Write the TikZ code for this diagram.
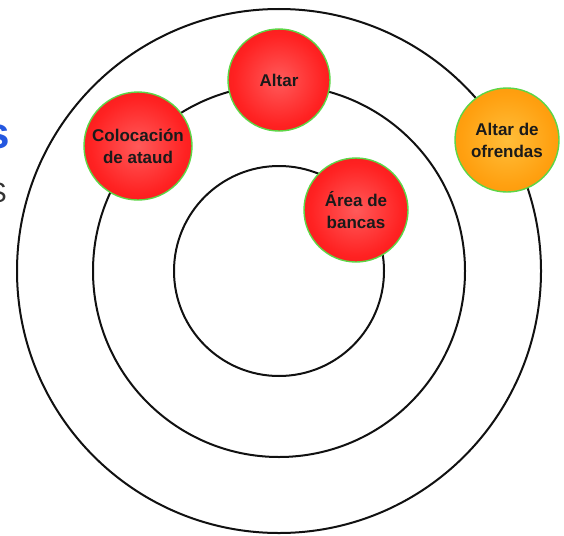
\documentclass[tikz,border=0pt]{standalone}
\usepackage{fontspec}
\setmainfont{Liberation Sans}
\definecolor{rin}{HTML}{FF5A5A}
\definecolor{rmid}{HTML}{FF2222}
\definecolor{rout}{HTML}{DD0808}
\definecolor{oin}{HTML}{FFBE3A}
\definecolor{omid}{HTML}{FFA010}
\definecolor{oout}{HTML}{F08400}
\definecolor{ballgreen}{HTML}{5CD646}
\definecolor{ringcol}{HTML}{111111}
\definecolor{txtcol}{HTML}{1A1A1A}
\definecolor{titleblue}{HTML}{2457E0}
\definecolor{subgray}{HTML}{333333}
\pgfdeclareradialshading{redball}{\pgfpoint{0bp}{0bp}}{color(0bp)=(rin); color(22bp)=(rmid); color(50bp)=(rout)}
\pgfdeclareradialshading{orangeball}{\pgfpoint{0bp}{0bp}}{color(0bp)=(oin); color(22bp)=(omid); color(50bp)=(oout)}
\begin{document}
\begin{tikzpicture}[x=1pt,y=1pt,
  ring/.style={draw=ringcol,line width=2pt,fill=none,circle,inner sep=0pt},
  ball/.style={circle,inner sep=0pt,minimum size=#1,draw=ballgreen,line width=1.4pt,
    align=center,text=txtcol,font=\bfseries\fontsize{17}{22}\selectfont},
  redb/.style={ball=#1,shading=redball},
  orangeb/.style={ball=#1,shading=orangeball}]
\useasboundingbox (0,0) rectangle (564,-535);
\clip (0,0) rectangle (564,-535);
\fill[white] (0,0) rectangle (564,-535);
% cut-off texts at left edge
\node[anchor=base east,inner sep=0pt,text=titleblue,font=\bfseries\fontsize{44}{44}\selectfont] (ttl) at (10,-148) {s};
\node[anchor=base east,inner sep=0pt,text=subgray,font=\fontsize{28}{28}\selectfont] (sub) at (7,-202) {S};
% rings
\node[ring,minimum size=524pt] (outer) at (279,-271) {};
\node[ring,minimum size=372pt] (middle) at (279,-271) {};
\node[ring,minimum size=210pt] (inner) at (279,-271) {};
% balls
\node[redb=102pt] (altar) at (279,-80) {Altar};
\node[redb=108pt] (ataud) at (138,-146) {Colocación\\de ataud};
\node[redb=104pt] (bancas) at (356,-210) {Área de\\bancas};
\node[orangeb=104pt] (ofrendas) at (507,-140) {Altar de\\ofrendas};
\end{tikzpicture}
\end{document}
